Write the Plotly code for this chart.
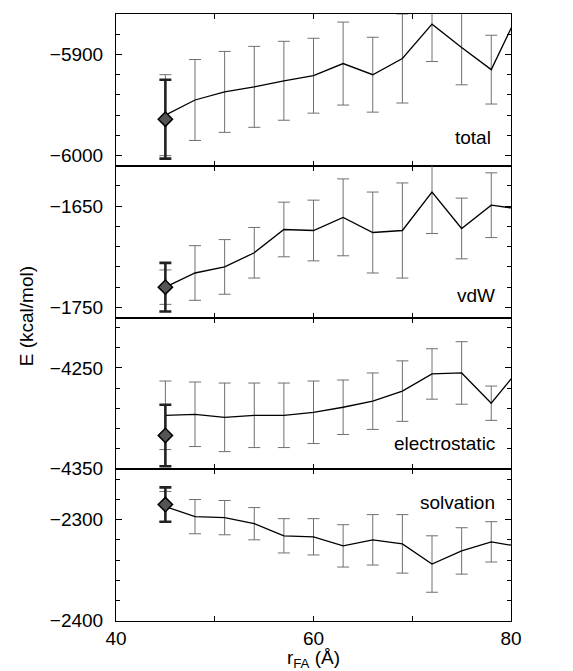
import plotly.graph_objects as go

x_vals = [45, 48, 51, 54, 57, 60, 63, 66, 69, 72, 75, 78, 81]
ref_x = [45]

total_vals = [-5960, -5945, -5937, -5932, -5926, -5921, -5909, -5920, -5904, -5870, -5893, -5915, -5854]
total_err = [40, 40, 40, 40, 39, 37, 41, 37, 44, 37, 37, 34, 35]
total_ref = [-5964]
total_ref_err = [39]

vdw_vals = [-1730, -1716, -1710, -1696, -1673, -1674, -1661, -1676, -1674, -1636, -1672, -1649, -1653]
vdw_err = [17, 27, 27, 25, 27, 30, 38, 40, 47, 41, 30, 32, 30]
vdw_ref = [-1730]
vdw_ref_err = [24]

elec_vals = [-4297, -4296, -4299, -4297, -4297, -4294, -4289, -4283, -4273, -4256, -4255, -4285, -4249]
elec_err = [34, 32, 34, 32, 32, 31, 27, 28, 30, 25, 31, 17, 20]
elec_ref = [-4317]
elec_ref_err = [30.5]

solv_vals = [-2287, -2297, -2298, -2304, -2316, -2317, -2326, -2320, -2324, -2344, -2331, -2322, -2327]
solv_err = [15, 17, 17, 16, 17, 18, 21, 25, 29, 28, 23, 20, 20]
solv_ref = [-2285]
solv_ref_err = [17]

panel_names = ["total", "vdW", "electrostatic", "solvation"]
panel_ranges = [[-6010, -5860], [-1760, -1610], [-4350.5, -4200], [-2400.5, -2250]]
panel_tick0 = [-6000, -1750, -4350, -2400]

series = [
    (total_vals, total_err, total_ref, total_ref_err),
    (vdw_vals, vdw_err, vdw_ref, vdw_ref_err),
    (elec_vals, elec_err, elec_ref, elec_ref_err),
    (solv_vals, solv_err, solv_ref, solv_ref_err),
]

FONT = "Liberation Sans, Arial, Helvetica, sans-serif"
fig = go.Figure()

for i, (vals, err, rv, re) in enumerate(series):
    xa = "x" if i == 0 else f"x{i+1}"
    ya = "y" if i == 0 else f"y{i+1}"
    fig.add_trace(go.Scatter(
        x=x_vals, y=vals, mode="lines", xaxis=xa, yaxis=ya,
        line=dict(color="black", width=1.3),
        error_y=dict(type="data", array=err, visible=True, color="#707070",
                     thickness=1, width=6),
        showlegend=False, hoverinfo="skip"))
    fig.add_trace(go.Scatter(
        x=ref_x, y=rv, mode="markers", xaxis=xa, yaxis=ya,
        marker=dict(symbol="diamond", size=11, color="#555555",
                    line=dict(color="black", width=1.5)),
        error_y=dict(type="data", array=re, visible=True, color="#222222",
                     thickness=2.6, width=6),
        showlegend=False, hoverinfo="skip"))

domains = [[0.75, 1.0], [0.5, 0.75], [0.25, 0.5], [0.0, 0.25]]
layout = {}
for i in range(4):
    xk = "xaxis" if i == 0 else f"xaxis{i+1}"
    yk = "yaxis" if i == 0 else f"yaxis{i+1}"
    ya = "y" if i == 0 else f"y{i+1}"
    xa = "x" if i == 0 else f"x{i+1}"
    xdict = dict(
        domain=[0, 1], anchor=ya, range=[40, 80],
        tickvals=[40, 50, 60, 70, 80], ticktext=["40", "", "60", "", "80"],
        ticks="inside", ticklen=5, tickwidth=1.2, tickcolor="black", showline=True,
        linecolor="black", linewidth=1, mirror="allticks", showgrid=False,
        zeroline=False, showticklabels=(i == 3),
        tickfont=dict(family=FONT, size=19, color="black"),
    )
    if i > 0:
        xdict["matches"] = "x"
    if i == 3:
        xdict["title"] = dict(text="r<sub>FA</sub> (Å)",
                              font=dict(family=FONT, size=19, color="black"),
                              standoff=0)
    layout[xk] = xdict
    layout[yk] = dict(
        domain=domains[i], anchor=xa, range=panel_ranges[i],
        tick0=panel_tick0[i], dtick=100, ticks="inside", ticklen=6,
        tickcolor="black", showline=True, linecolor="black", linewidth=1,
        mirror="ticks", showgrid=False, zeroline=False,
        minor=dict(dtick=20, tick0=panel_tick0[i], ticks="inside", ticklen=4,
                   tickcolor="black", showgrid=False),
        tickfont=dict(family=FONT, size=19, color="black"),
        ticklabelstandoff=8,
    )

fig.update_layout(
    width=573, height=671,
    margin=dict(l=116, r=62, t=14, b=50, autoexpand=False),
    paper_bgcolor="white", plot_bgcolor="white",
    font=dict(family=FONT, size=19, color="black"),
    **layout,
)

label_pos = [(0.955, 0.797), (0.965, 0.537), (0.965, 0.293), (0.965, 0.196)]
for name, (px, py) in zip(panel_names, label_pos):
    fig.add_annotation(text=name, x=px, y=py, xref="paper", yref="paper",
                       xanchor="right", yanchor="middle", showarrow=False,
                       font=dict(family=FONT, size=19, color="black"))

fig.add_annotation(text="E (kcal/mol)", x=-0.228, y=0.502, xref="paper", yref="paper",
                   textangle=-90, showarrow=False, xanchor="center", yanchor="middle",
                   font=dict(family=FONT, size=19, color="black"))

fig.write_html("out.html")
